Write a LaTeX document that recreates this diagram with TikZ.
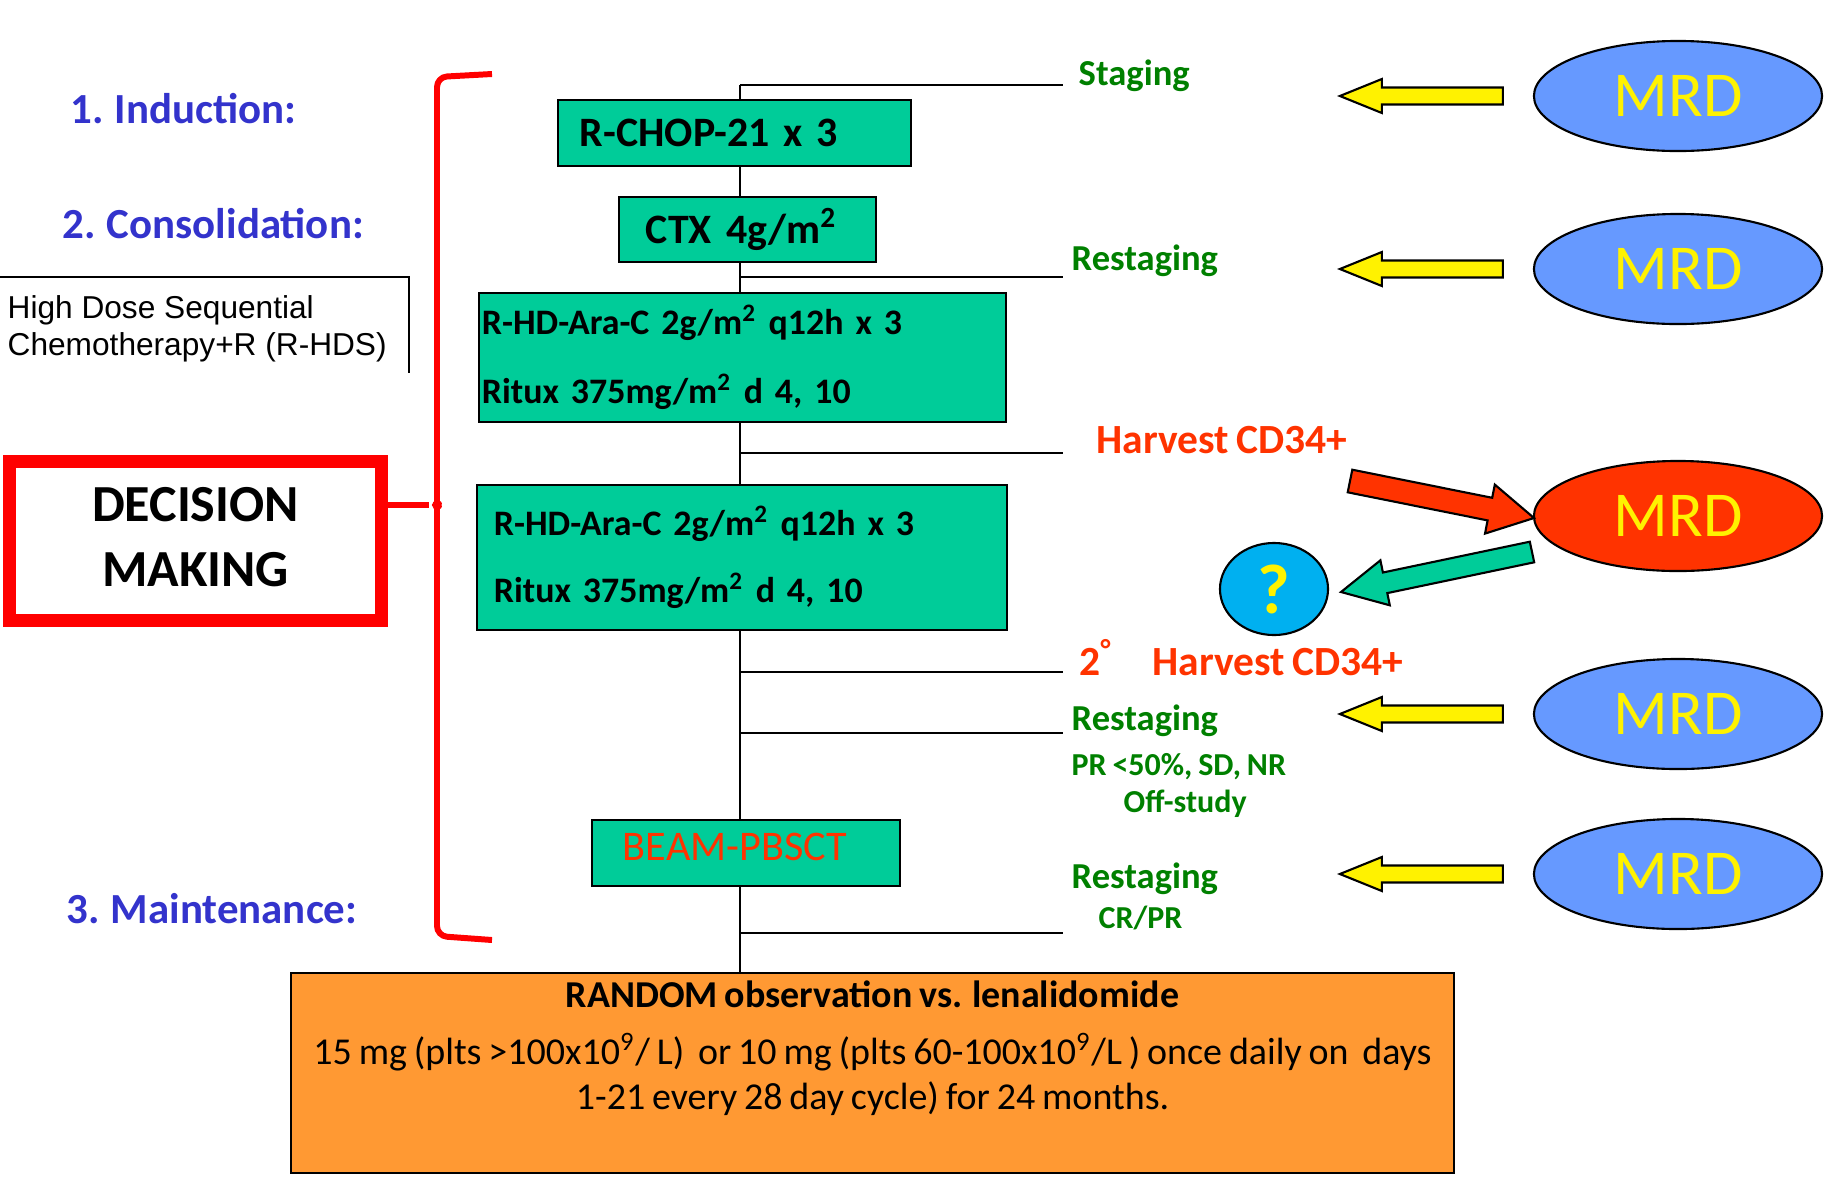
\documentclass[tikz,border=0pt]{standalone}
\usepackage{fontspec}
\setmainfont{Carlito}[WordSpace=0.8]
\newfontfamily\arialfont{Liberation Sans}
\usepackage{xcolor}
\usetikzlibrary{shapes.geometric, calc}

\definecolor{boxgreen}{RGB}{0,204,153}
\definecolor{boxorange}{RGB}{255,153,51}
\definecolor{mrdblue}{RGB}{102,153,255}
\definecolor{mrdred}{RGB}{255,51,0}
\definecolor{phaseblue}{RGB}{51,51,204}
\definecolor{labgreen}{RGB}{0,128,0}
\definecolor{harvestred}{RGB}{255,51,0}
\definecolor{qcyan}{RGB}{0,176,240}

\begin{document}
\begin{tikzpicture}[x=0.01cm, y=-0.01cm,
    phase/.style={anchor=base west, inner sep=0pt, text=phaseblue, font=\bfseries\fontsize{12.2}{14}\selectfont},
    treat/.style={rectangle, draw, line width=0.6pt, fill=boxgreen, inner ysep=0pt, align=left, font=\bfseries\fontsize{11.9}{14}\selectfont},
    tag/.style={anchor=base west, inner sep=0pt, text=labgreen, font=\bfseries\fontsize{10.4}{12}\selectfont},
    smalltag/.style={tag, font=\bfseries\fontsize{9.1}{11}\selectfont},
    harvest/.style={anchor=base west, inner sep=0pt, text=harvestred, font=\bfseries\fontsize{11.8}{14}\selectfont},
    mrd/.style={ellipse, draw, line width=0.6pt, fill=mrdblue, minimum width=2.88cm, minimum height=1.1cm, inner sep=0pt, text=yellow, font=\fontsize{18.2}{20}\selectfont},
    spine/.style={line width=0.6pt},
    yarrow/.style={draw, line width=0.6pt, fill=yellow},
    bracket/.style={draw=red, line width=1.7pt, line join=round}
  ]
  \useasboundingbox (0,0) rectangle (1836,1181);

  % phases on the left
  \node[phase] (induction) at (70,123) {1. Induction:};
  \node[phase] (consol) at (62,238) {2. Consolidation:};
  \node[phase] (maint) at (66,923) {3. Maintenance:};

  \node[anchor=west, inner sep=0pt, align=left, font=\arialfont\fontsize{9}{10.5}\selectfont] (hdsnote) at (7,329) {High Dose Sequential\\Chemotherapy+R (R-HDS)};
  \draw[line width=0.6pt] (0,277) -| (409,373);

  \node[draw=red, line width=3.7pt, minimum width=3.72cm, minimum height=1.59cm, text depth=0.08cm, align=center, font=\bfseries\fontsize{14.8}{18.5}\selectfont] (decision) at (195.5,541) {DECISION\\MAKING};

  % red brace
  \coordinate (tip) at (429,505);
  \draw[bracket, rounded corners=0.1cm] (492,74) -- (437,77) -- (437,496) .. controls (437,502) and (433,504.5) .. (tip) .. controls (433,505.5) and (437,508) .. (437,515) -- (437,936) -- (492,940);
  \draw[bracket] (decision.east |- tip) -- (tip);

  % treatment boxes
  \node[treat, minimum height=0.66cm, inner xsep=0.22cm, text width=3.09cm] (rchop) at (734.5,133) {R-CHOP-21 x 3};
  \node[treat, minimum height=0.65cm, inner xsep=0.27cm, text width=2.03cm] (ctx) at (747.5,229.5) {CTX 4g/m\textsuperscript{2}};
  \node[treat, minimum height=1.29cm, inner xsep=0.03cm, text width=5.21cm, font=\bfseries\fontsize{10.2}{19.6}\selectfont] (hds1) at (742.5,357.5) {R-HD-Ara-C 2g/m\textsuperscript{2} q12h x 3\\Ritux 375mg/m\textsuperscript{2} d 4, 10};
  \node[treat, minimum height=1.45cm, inner xsep=0.17cm, text width=4.96cm, font=\bfseries\fontsize{10.2}{19.1}\selectfont] (hds2) at (742,557.5) {R-HD-Ara-C 2g/m\textsuperscript{2} q12h x 3\\Ritux 375mg/m\textsuperscript{2} d 4, 10};
  \node[treat, minimum height=0.66cm, inner xsep=0.31cm, text width=2.46cm, text depth=0.12cm, text=harvestred, font=\fontsize{12}{14}\selectfont] (beam) at (746,853) {BEAM-PBSCT};

  \node[draw, line width=0.6pt, fill=boxorange, inner xsep=0.115cm, inner ysep=0.08cm, font=\fontsize{10.8}{12.8}\selectfont] (random) at (872.5,1073) {\parbox[c][1.84cm][t]{11.4cm}{\centering\textbf{RANDOM observation vs. lenalidomide}\\[3.4pt]
    15 mg (plts >100x10\textsuperscript{9}/ L)~ or 10 mg (plts 60-100x10\textsuperscript{9}/L ) once daily on~ days\\
    1-21 every 28 day cycle) for 24 months.}};

  % time line
  \coordinate (top) at (740,85);
  \draw[spine] (top) -- (top |- rchop.north);
  \foreach \a/\b in {rchop/ctx, ctx/hds1, hds1/hds2, hds2/beam, beam/random}
    \draw[spine] (top |- \a.south) -- (top |- \b.north);
  \foreach \i/\y in {1/85, 2/277, 3/453, 4/672, 5/733, 6/933} {
    \coordinate (j\i) at (740,\y);
    \coordinate (e\i) at (1063,\y);
    \draw[spine] (j\i) -- (e\i);
  }

  % labels on the branches
  \node[tag] (staging) at (1078,85) {Staging};
  \node[tag] (restag1) at (1071,270) {Restaging};
  \node[harvest] (harv1) at (1096,453) {Harvest CD34+};
  \node[harvest] (harv2) at (1079,675) {2\textsuperscript{°}\hspace{0.4cm}Harvest CD34+};
  \node[tag] (restag2) at (1071,730) {Restaging};
  \node[smalltag] (poor) at (1071,775) {PR <50\%, SD, NR};
  \node[smalltag] (offstudy) at (1123,812) {Off-study};
  \node[tag] (restag3) at (1071,888) {Restaging};
  \node[smalltag] (crpr) at (1098,928) {CR/PR};

  % MRD checks
  \node[mrd] (m1) at (1678,96) {MRD};
  \node[mrd] (m2) at (1678,269) {MRD};
  \node[mrd, fill=mrdred] (m3) at (1678,516) {MRD};
  \node[mrd] (m4) at (1678,714) {MRD};
  \node[mrd] (m5) at (1678,874) {MRD};
  \node[ellipse, draw, line width=0.6pt, fill=qcyan, minimum width=1.08cm, minimum height=0.92cm, inner sep=0pt, text=yellow, font=\bfseries\fontsize{20}{22}\selectfont] (query) at (1274,589) {?};

  \foreach \m in {m1, m2, m4, m5}
    \draw[yarrow] ($(\m.west)+(-30,8.5)$) -- ++(-121,0) -- ++(0,8.5) -- ++(-42,-17) -- ++(42,-17) -- ++(0,8.5) -- ++(121,0) -- cycle;
  \draw[line width=0.6pt, fill=mrdred] (1347.7,492.3) -- (1352.3,469.7) -- (1492.2,497.8) -- (1494.8,484.6) -- (1534,518) -- (1485,533.6) -- (1487.6,520.4) -- cycle;
  \draw[line width=0.6pt, fill=boxgreen] (1534.2,562.3) -- (1529.8,541.7) -- (1382.9,572.5) -- (1380.4,560.3) -- (1341,592) -- (1389.8,605.3) -- (1387.3,593.1) -- cycle;
\end{tikzpicture}
\end{document}
